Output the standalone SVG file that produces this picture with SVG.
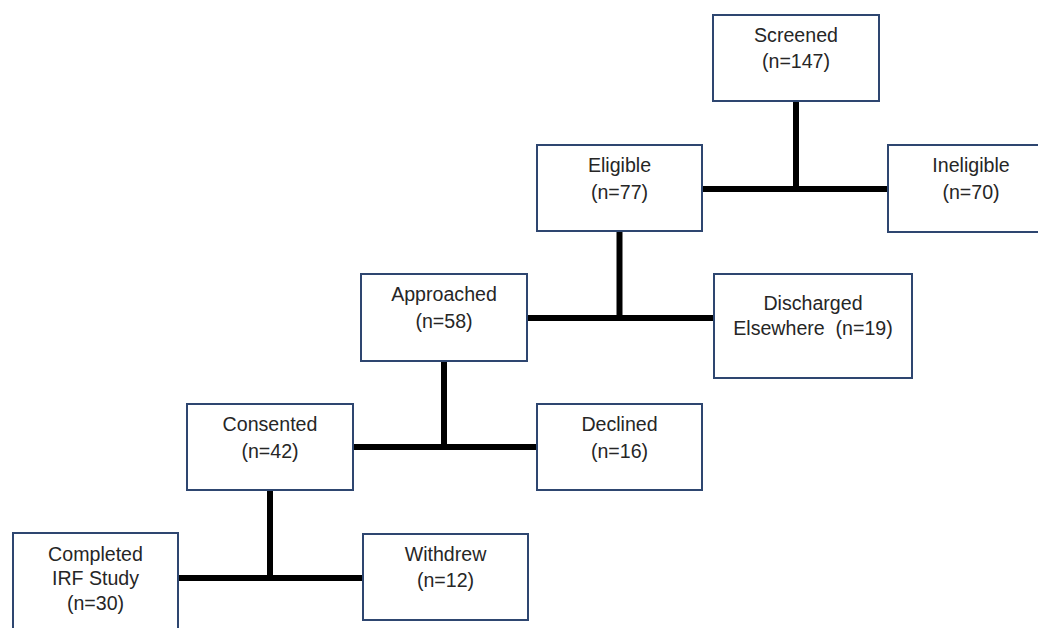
<svg xmlns="http://www.w3.org/2000/svg" width="1038" height="628" viewBox="0 0 1038 628">
<style>
.box{fill:#ffffff;stroke:#2e4670;stroke-width:2}
.lbl{font-family:"Liberation Sans",Arial,sans-serif;font-size:19.6px;fill:#262626;text-anchor:middle}
.conn{stroke:#000000;stroke-width:6;fill:none}
</style>
<rect width="1038" height="628" fill="#ffffff"/>
<g id="connectors">
<line class="conn" x1="796" y1="101" x2="796" y2="189"/>
<line class="conn" x1="702" y1="189" x2="888" y2="189"/>
<line class="conn" x1="619.5" y1="231" x2="619.5" y2="318"/>
<line class="conn" x1="527" y1="318" x2="714" y2="318"/>
<line class="conn" x1="444" y1="361" x2="444" y2="447"/>
<line class="conn" x1="353" y1="447" x2="537" y2="447"/>
<line class="conn" x1="270" y1="490" x2="270" y2="578"/>
<line class="conn" x1="178" y1="578" x2="363" y2="578"/>
</g>
<g id="screened">
<rect class="box" x="713" y="15" width="166" height="86"/>
<text class="lbl" x="796" y="42">Screened</text>
<text class="lbl" x="796" y="68">(n=147)</text>
</g>
<g id="eligible">
<rect class="box" x="537" y="145" width="165" height="86"/>
<text class="lbl" x="619.5" y="172">Eligible</text>
<text class="lbl" x="619.5" y="199">(n=77)</text>
</g>
<g id="ineligible">
<rect class="box" x="888" y="145" width="166" height="87"/>
<text class="lbl" x="971" y="172">Ineligible</text>
<text class="lbl" x="971" y="199">(n=70)</text>
</g>
<g id="approached">
<rect class="box" x="361" y="274" width="166" height="87"/>
<text class="lbl" x="444" y="301">Approached</text>
<text class="lbl" x="444" y="328">(n=58)</text>
</g>
<g id="discharged">
<rect class="box" x="714" y="274" width="198" height="104"/>
<text class="lbl" x="813" y="310">Discharged</text>
<text class="lbl" x="813" y="335">Elsewhere&#160; (n=19)</text>
</g>
<g id="consented">
<rect class="box" x="187" y="404" width="166" height="86"/>
<text class="lbl" x="270" y="431">Consented</text>
<text class="lbl" x="270" y="458">(n=42)</text>
</g>
<g id="declined">
<rect class="box" x="537" y="404" width="165" height="86"/>
<text class="lbl" x="619.5" y="431">Declined</text>
<text class="lbl" x="619.5" y="458">(n=16)</text>
</g>
<g id="completed">
<rect class="box" x="13" y="533" width="165" height="110"/>
<text class="lbl" x="95.5" y="561">Completed</text>
<text class="lbl" x="95.5" y="585">IRF Study</text>
<text class="lbl" x="95.5" y="610">(n=30)</text>
</g>
<g id="withdrew">
<rect class="box" x="363" y="534" width="165" height="86"/>
<text class="lbl" x="445.5" y="561">Withdrew</text>
<text class="lbl" x="445.5" y="587">(n=12)</text>
</g>
</svg>
